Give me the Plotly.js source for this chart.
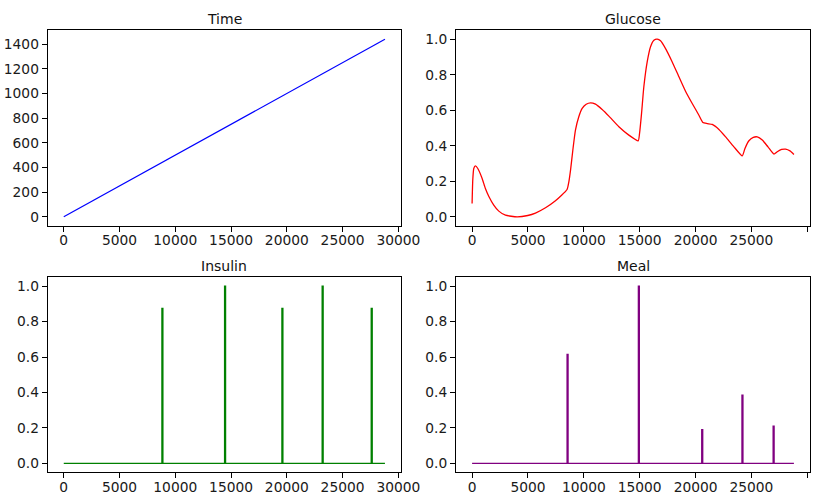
<!DOCTYPE html>
<html><head><meta charset="utf-8">
<script src="https://cdn.plot.ly/plotly-3.0.1.min.js"></script>
<style>html,body{margin:0;padding:0;background:#fff}#chart{width:824px;height:495px}</style>
</head><body><div id="chart"></div>
<script>
var timeX = [0, 28800];
var timeY = [0, 1440];

var glucoseX = [0,60,150,300,510,900,1190,1490,1940,2390,2985,4030,4985,5670,6570,7460,8500,
  8660,8810,9015,9250,9550,9850,10210,10600,11045,11640,12240,13135,14030,14865,
  14985,15165,15370,15670,15970,16270,16570,16865,17315,17910,18510,19100,19700,20300,20655,
  21045,21490,22090,22690,23430,24180,
  24420,24775,25165,25520,25970,26480,27015,27310,27700,28060,28450,28800];
var glucoseY = [0.075,0.206,0.272,0.287,0.272,0.216,0.159,0.116,0.066,0.032,0.009,0.0,0.0075,0.021,0.051,0.090,0.154,
  0.197,0.263,0.375,0.488,0.563,0.61,0.634,0.642,0.634,0.604,0.567,0.507,0.46,0.428,
  0.469,0.582,0.732,0.872,0.957,0.994,1.0,0.991,0.947,0.872,0.788,0.707,0.638,0.572,0.531,
  0.525,0.52,0.492,0.45,0.394,0.343,
  0.385,0.428,0.447,0.45,0.432,0.394,0.353,0.366,0.379,0.381,0.371,0.351];

var insulinTimes = [8800, 14420, 19560, 23170, 27570];
var insulinDoses = [0.875, 1.0, 0.875, 1.0, 0.875];

var mealTimes = [8500, 14880, 20550, 24150, 26940];
var mealSizes = [0.615, 1.0, 0.19, 0.385, 0.21];

var tEnd = 28800;
function spikes(times, vals){
  var x=[0], y=[0];
  for (var i=0;i<times.length;i++){
    x.push(times[i], times[i], times[i]+90, times[i]+90);
    y.push(0, vals[i], vals[i], 0);
  }
  x.push(tEnd); y.push(0);
  return {x:x, y:y};
}
var ins = spikes(insulinTimes, insulinDoses);
var meal = spikes(mealTimes, mealSizes);

var data = [
  {x: timeX, y: timeY, type:'scatter', mode:'lines', line:{color:'#0000ff', width:1.2}, xaxis:'x', yaxis:'y'},
  {x: glucoseX, y: glucoseY, type:'scatter', mode:'lines', line:{color:'#ff0000', width:1.3, shape:'spline', smoothing:0.5}, xaxis:'x2', yaxis:'y2'},
  {x: ins.x, y: ins.y, type:'scatter', mode:'lines', line:{color:'#008000', width:1.3}, xaxis:'x3', yaxis:'y3'},
  {x: meal.x, y: meal.y, type:'scatter', mode:'lines', line:{color:'#800080', width:1.3}, xaxis:'x4', yaxis:'y4'}
];

var W=824, H=495;
var colL=[47.7/W, 401/W], colR=[456/W, 810/W];
var rowT=[1-225.7/H, 1-30.3/H], rowB=[1-472.3/H, 1-277.3/H];
var font = {family:'DejaVu Sans, sans-serif', size:13.8, color:'#1a1a1a'};
function xa(dom, anchor){
  return {domain:dom, anchor:anchor, range:[-1440,30240], tickvals:[0,5000,10000,15000,20000,25000,30000],
    ticktext:['0','5000','10000','15000','20000','25000','30000'],
    ticks:'outside', ticklen:5, tickwidth:1, tickcolor:'#000', showline:true, mirror:true, linecolor:'#000', linewidth:1,
    showgrid:false, zeroline:false, tickfont:font, ticklabelstandoff:-3};
}
function ya(dom, anchor, range, vals, txt){
  return {domain:dom, anchor:anchor, range:range, tickvals:vals, ticktext:txt,
    ticks:'outside', ticklen:5, tickwidth:1, tickcolor:'#000', showline:true, mirror:true, linecolor:'#000', linewidth:1,
    showgrid:false, zeroline:false, tickfont:font};
}
var unitVals=[0,0.2,0.4,0.6,0.8,1.0], unitTxt=['0.0','0.2','0.4','0.6','0.8','1.0'];
var layout = {
  width:W, height:H, margin:{l:0,r:0,t:0,b:0}, showlegend:false,
  paper_bgcolor:'#fff', plot_bgcolor:'#fff',
  xaxis: xa(colL,'y'), yaxis: ya(rowT,'x',[-72,1512],[0,200,400,600,800,1000,1200,1400],['0','200','400','600','800','1000','1200','1400']),
  xaxis2: xa(colR,'y2'), yaxis2: ya(rowT,'x2',[-0.05,1.05],unitVals,unitTxt),
  xaxis3: xa(colL,'y3'), yaxis3: ya(rowB,'x3',[-0.05,1.05],unitVals,unitTxt),
  xaxis4: xa(colR,'y4'), yaxis4: ya(rowB,'x4',[-0.05,1.05],unitVals,unitTxt),
  annotations: [
    {text:'Time', x:(colL[0]+colL[1])/2, y:rowT[1]},
    {text:'Glucose', x:(colR[0]+colR[1])/2, y:rowT[1]},
    {text:'Insulin', x:(colL[0]+colL[1])/2, y:rowB[1]},
    {text:'Meal', x:(colR[0]+colR[1])/2, y:rowB[1]}
  ].map(function(a){ return Object.assign({xref:'paper', yref:'paper', xanchor:'center', yanchor:'bottom', showarrow:false, yshift:1,
     font:{family:'DejaVu Sans, sans-serif', size:14, color:'#111'}}, a); })
};
Plotly.newPlot('chart', data, layout, {staticPlot:true, displayModeBar:false});
</script></body></html>
